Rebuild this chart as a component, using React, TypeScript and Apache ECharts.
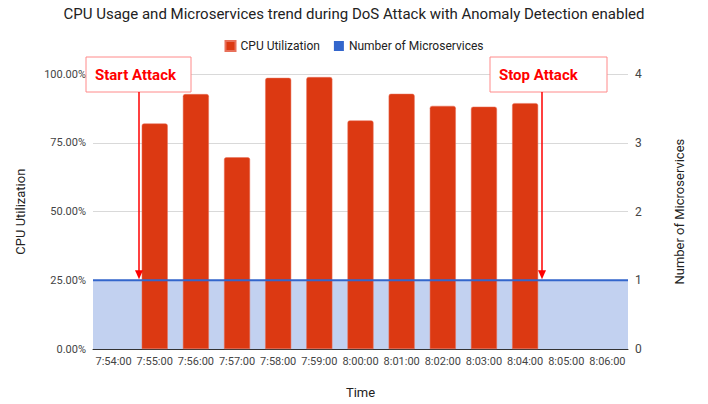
import React, { useEffect, useRef } from "react";
import * as echarts from "echarts";

const categories = ["7:54:00","7:55:00","7:56:00","7:57:00","7:58:00","7:59:00","8:00:00","8:01:00","8:02:00","8:03:00","8:04:00","8:05:00","8:06:00"];
const cpuUtilization = [null, 0.821, 0.928, 0.698, 0.987, 0.99, 0.832, 0.929, 0.885, 0.882, 0.895, null, null];
const microservices = [1, 1, 1, 1, 1, 1, 1, 1, 1, 1, 1, 1, 1];
const leftTicks = [0, 0.25, 0.5, 0.75, 1];
const rightTicks = [0, 1, 2, 3, 4];

const FONT = "Roboto, 'Noto Sans', sans-serif";

export default function App() {
  const ref = useRef<HTMLDivElement>(null);
  useEffect(() => {
    if (!ref.current) return;
    const chart = echarts.init(ref.current, null, { renderer: "svg" });
    chart.setOption({
      animation: false,
      textStyle: { fontFamily: FONT },
      title: {
        text: "CPU Usage and Microservices trend during DoS Attack with Anomaly Detection enabled",
        left: "center",
        top: 1,
        textStyle: { fontSize: 15, fontWeight: "normal", color: "#222", fontFamily: FONT },
      },
      legend: {
        top: 35,
        left: "center",
        itemWidth: 10,
        itemHeight: 10,
        itemGap: 14,
        textStyle: { fontSize: 12, color: "#222", fontFamily: FONT },
        data: [
          { name: "CPU Utilization", icon: "rect", itemStyle: { color: "#dc3912" } },
          { name: "Number of Microservices", icon: "rect", itemStyle: { color: "#3366cc" } },
        ],
      },
      grid: { left: 93, right: 80, top: 74.3, bottom: 51 },
      xAxis: [
        {
          type: "category",
          data: categories,
          boundaryGap: true,
          name: "Time",
          nameLocation: "middle",
          nameGap: 37,
          nameTextStyle: { fontSize: 13, color: "#222" },
          axisLine: { lineStyle: { color: "#333" } },
          axisTick: { show: false },
          axisLabel: { interval: 0, fontSize: 11, color: "#444", margin: 7 },
        },
        { type: "category", data: categories, boundaryGap: false, show: false },
      ],
      yAxis: [
        {
          type: "value",
          min: 0,
          max: 1,
          interval: 0.25,
          name: "CPU Utilization",
          nameLocation: "middle",
          nameGap: 66,
          nameTextStyle: { fontSize: 13, color: "#222" },
          axisLine: { show: false },
          axisTick: { show: false },
          axisLabel: {
            fontSize: 11,
            color: "#444",
            margin: 7,
            formatter: (v: number) => (leftTicks.includes(v) ? (v * 100).toFixed(2) + "%" : ""),
          },
          splitLine: { lineStyle: { color: "#d9d9d9" } },
        },
        {
          type: "value",
          min: 0,
          max: 4,
          interval: 1,
          name: "Number of Microservices",
          nameLocation: "middle",
          nameGap: 45,
          nameTextStyle: { fontSize: 13, color: "#222" },
          axisLine: { show: false },
          axisTick: { show: false },
          axisLabel: {
            fontSize: 12,
            color: "#444",
            margin: 7,
            formatter: (v: number) => (rightTicks.includes(v) ? String(v) : ""),
          },
          splitLine: { show: false },
        },
      ],
      series: [
        {
          name: "Number of Microservices",
          type: "line",
          xAxisIndex: 1,
          yAxisIndex: 1,
          data: microservices,
          symbol: "none",
          lineStyle: { width: 0 },
          itemStyle: { color: "#3366cc" },
          areaStyle: { color: "#c2d1f0", opacity: 1 },
          z: 1,
        },
        {
          name: "CPU Utilization",
          type: "bar",
          xAxisIndex: 0,
          yAxisIndex: 0,
          data: cpuUtilization,
          barWidth: 26,
          itemStyle: { color: "#dc3912", borderRadius: [2, 2, 0, 0], borderColor: "#e8705a", borderWidth: 0.5 },
          z: 2,
        },
        {
          name: "Number of Microservices",
          type: "line",
          xAxisIndex: 1,
          yAxisIndex: 1,
          data: microservices,
          symbol: "none",
          lineStyle: { width: 2, color: "#3366cc" },
          itemStyle: { color: "#3366cc" },
          z: 3,
        },
      ],
    });
    // Annotations anchored to the line level via the chart's own scale
    const lineY = chart.convertToPixel({ yAxisIndex: 1 }, microservices[0]) as number;
    const annotation = (x: number, w: number, label: string, arrowX: number) => [
      {
        type: "rect",
        shape: { x, y: 57, width: w, height: 35 },
        style: { fill: "#ffffff", stroke: "#ff8a8a", lineWidth: 1 },
        z: 100,
      },
      {
        type: "text",
        x: x + 9,
        y: 74.5,
        style: { text: label, fill: "#ff0000", font: `bold 15px ${FONT}`, textVerticalAlign: "middle" },
        z: 101,
      },
      {
        type: "line",
        shape: { x1: arrowX, y1: 92, x2: arrowX, y2: lineY - 8 },
        style: { stroke: "#ff0000", lineWidth: 1.5 },
        z: 100,
      },
      {
        type: "polygon",
        shape: { points: [[arrowX - 4, lineY - 10], [arrowX + 4, lineY - 10], [arrowX, lineY - 1]] },
        style: { fill: "#ff0000" },
        z: 100,
      },
    ];
    chart.setOption({
      graphic: [...annotation(86, 105, "Start Attack", 139), ...annotation(490, 117, "Stop Attack", 542)],
    });
    return () => chart.dispose();
  }, []);
  return <div ref={ref} style={{ position: "absolute", left: 0, top: 0, width: "100vw", height: "100vh" }} />;
}
